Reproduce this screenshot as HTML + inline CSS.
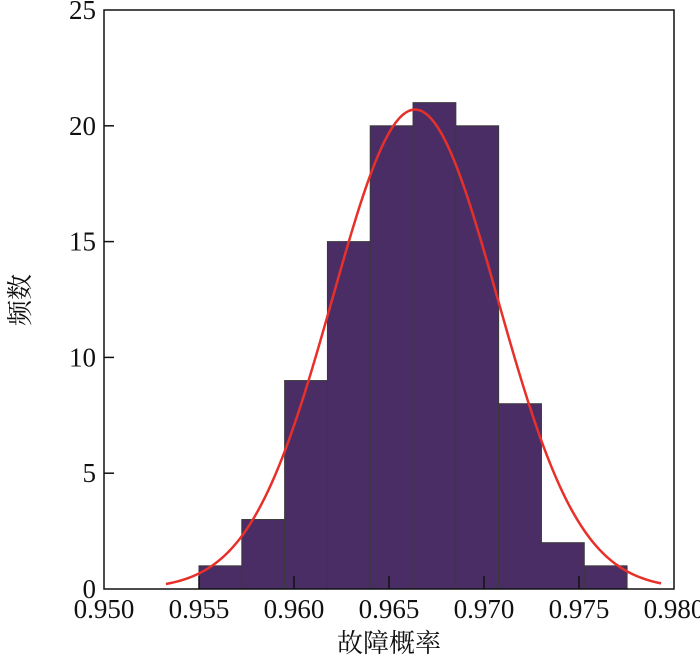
<!DOCTYPE html>
<html><head><meta charset="utf-8"><style>
body{margin:0;background:#fff;}
svg text{font-family:"Liberation Serif","Noto Serif CJK SC",serif;fill:#111;}
</style></head><body>
<svg id="chart" width="700" height="662" viewBox="0 0 700 662" xmlns="http://www.w3.org/2000/svg"></svg>
<script>
const binStart = 0.9550;
const binWidth = 0.002253;
const counts = [1, 3, 9, 15, 20, 21, 20, 8, 2, 1];
const xTicks = [0.950, 0.955, 0.960, 0.965, 0.970, 0.975, 0.980];
const xTickLabels = ["0.950","0.955","0.960","0.965","0.970","0.975","0.980"];
const yTicks = [0, 5, 10, 15, 20, 25];
const yTickLabels = ["0","5","10","15","20","25"];
const fitMean = [0.96637];
const fitSd = [0.004342];
const fitRange = [0.95326, 0.97932];

const L=104,R=674,T=10,B=589;
const xMin=0.950,xMax=0.980,yMin=0,yMax=25;
const sx=v=>L+(v-xMin)/(xMax-xMin)*(R-L);
const sy=v=>B-(v-yMin)/(yMax-yMin)*(B-T);
const svg=document.getElementById('chart');
const NS='http://www.w3.org/2000/svg';
function mk(tag,attrs,parent){const e=document.createElementNS(NS,tag);for(const k in attrs)e.setAttribute(k,attrs[k]);(parent||svg).appendChild(e);return e;}

counts.forEach((c,i)=>{
  const x0=sx(binStart+i*binWidth),x1=sx(binStart+(i+1)*binWidth);
  const r=mk('rect',{x:x0,y:sy(c),width:x1-x0,height:sy(0)-sy(c),fill:'#4b2d66',stroke:'#3a3a3a','stroke-width':1});
  
  
});

let d='';
const n=200;
for(let i=0;i<=n;i++){
  const x=fitRange[0]+(fitRange[1]-fitRange[0])*i/n;
  const y=counts.reduce((a,b)=>a+b,0)*binWidth/(fitSd[0]*Math.sqrt(2*Math.PI))*Math.exp(-0.5*Math.pow((x-fitMean[0])/fitSd[0],2));
  d+=(i?'L':'M')+sx(x).toFixed(2)+','+sy(y).toFixed(2);
}
const curve=mk('path',{d:d,fill:'none',stroke:'#e8302a','stroke-width':2.5});



const frame=mk('rect',{x:L,y:T,width:R-L,height:B-T,fill:'none',stroke:'#111','stroke-width':1.5});



xTicks.forEach((v,i)=>{
  const x=sx(v);
  if(i>0&&i<xTicks.length-1){const t=mk('line',{x1:x,x2:x,y1:B,y2:B-13,stroke:'#111','stroke-width':1.5});
  }
  const tx=mk('text',{x:x,y:B+29,'font-size':27,'text-anchor':'middle'});
  tx.textContent=xTickLabels[i];
  
  
});
yTicks.forEach((v,i)=>{
  const y=sy(v);
  if(i>0&&i<yTicks.length-1){const t=mk('line',{x1:L,x2:L+10,y1:y,y2:y,stroke:'#111','stroke-width':1.5});
  }
  const tx=mk('text',{x:L-8,y:y+9,'font-size':27,'text-anchor':'end'});
  tx.textContent=yTickLabels[i];
  
  
});
const xl=mk('text',{x:389,y:652,'font-size':26,'text-anchor':'middle'});
xl.textContent='故障概率';


const yl=mk('text',{x:0,y:0,'font-size':26,'text-anchor':'middle',transform:'translate(29,300) rotate(-90)'});
yl.textContent='频数';


</script>
</body></html>
